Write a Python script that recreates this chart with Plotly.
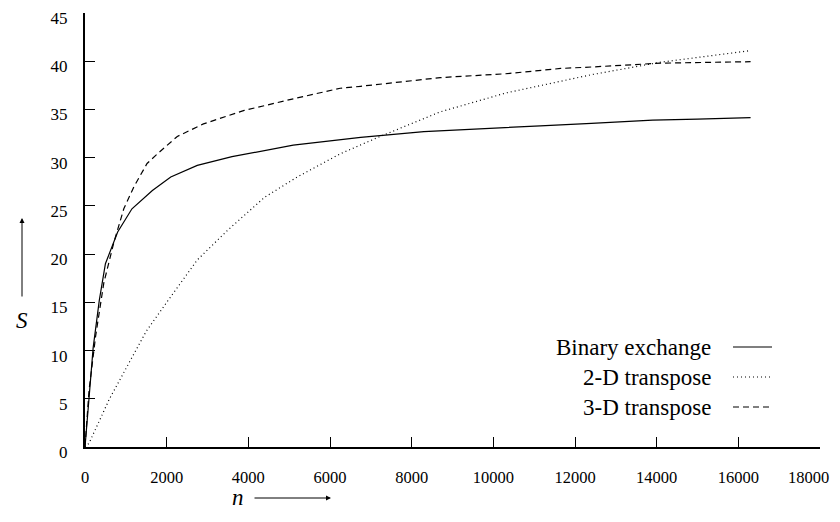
import plotly.graph_objects as go

# ---- data ----
n_binary = [0, 100, 200, 350, 500, 800, 1150, 1650, 2100, 2750, 3600, 5100, 6750,
            8300, 9900, 11150, 12400, 13900, 15000, 16300]
s_binary = [0, 5.5, 10.3, 15.2, 19.0, 22.3, 24.7, 26.6, 28.0, 29.2, 30.1, 31.3, 32.1,
            32.7, 33.0, 33.3, 33.55, 33.9, 34.0, 34.15]

n_2d = [0, 100, 600, 1500, 2000, 2750, 3500, 4400, 5200, 6250, 7200, 8700, 10300,
        11650, 12400, 14100, 16300]
s_2d = [0, 0.4, 5.0, 12.0, 15.0, 19.4, 22.5, 25.9, 28.0, 30.4, 32.15, 34.75, 36.7,
        37.9, 38.6, 39.9, 41.1]

n_3d = [0, 100, 260, 460, 700, 950, 1200, 1520, 1800, 2260, 2900, 3900, 5100, 6250,
        6750, 8700, 10300, 11650, 12400, 14100, 16300]
s_3d = [0, 5.9, 11.5, 17.0, 21.1, 24.7, 27.0, 29.4, 30.5, 32.2, 33.5, 34.9, 36.1, 37.2,
        37.4, 38.3, 38.7, 39.25, 39.4, 39.8, 39.95]

series_names = ["Binary exchange", "2-D transpose", "3-D transpose"]
x_ticks = [0, 2000, 4000, 6000, 8000, 10000, 12000, 14000, 16000, 18000]
y_ticks = [0, 5, 10, 15, 20, 25, 30, 35, 40, 45]

SERIF = "Liberation Serif"
dashes = ["solid", "1px,3px", "6px,4px"]

fig = go.Figure()
for xs, ys, name, d in zip([n_binary, n_2d, n_3d], [s_binary, s_2d, s_3d], series_names, dashes):
    fig.add_trace(go.Scatter(x=xs, y=ys, mode="lines", name=name,
                             line=dict(color="black", width=1.2, dash=d),
                             showlegend=False))

OFF = 8  # page body margin of the browser
W, H = 840 - OFF, 522 - 2 * OFF
# target plot box in screenshot pixels: x 85..820, y 13..447
X0, X1, Y0, Y1 = 85, 820, 13, 447
L, T = X0 - OFF, Y0 - OFF
R, B = W - (X1 - OFF), H - (Y1 - OFF)
pw, ph = X1 - X0, Y1 - Y0


def px(xp):
    return (xp - X0) / pw


def py(yp):
    return (Y1 - yp) / ph


annotations = []
shapes = []
# custom legend: right-aligned text, line sample on the right
leg_rows = [347, 377, 407]
for name, d, yy in zip(series_names, dashes, leg_rows):
    annotations.append(dict(x=px(713), y=py(yy), xref="paper", yref="paper",
                            text=name, showarrow=False, xanchor="right", yanchor="middle",
                            font=dict(family=SERIF, size=23, color="black")))
    shapes.append(dict(type="line", xref="paper", yref="paper",
                       x0=px(733), x1=px(772), y0=py(yy), y1=py(yy),
                       line=dict(color="black", width=1.2, dash=d)))

# axis labels with arrows
annotations.append(dict(x=px(22), y=py(320), xref="paper", yref="paper", text="<i>S</i>",
                        showarrow=False, xanchor="center", yanchor="middle",
                        font=dict(family=SERIF, size=23, color="black")))
annotations.append(dict(x=px(22), y=py(218), xref="paper", yref="paper", text="",
                        showarrow=True, ax=0, ay=80, arrowhead=2, arrowsize=1,
                        arrowwidth=1, arrowcolor="black"))
annotations.append(dict(x=px(238), y=py(497), xref="paper", yref="paper", text="<i>n</i>",
                        showarrow=False, xanchor="center", yanchor="middle",
                        font=dict(family=SERIF, size=23, color="black")))
annotations.append(dict(x=px(331), y=py(498), xref="paper", yref="paper", text="",
                        showarrow=True, ax=-78, ay=0, arrowhead=2, arrowsize=1,
                        arrowwidth=1, arrowcolor="black"))

# last x tick label placed so it stays fully inside the window
x_ticktext = [str(v) for v in x_ticks]
annotations.append(dict(x=px(831), y=py(477), xref="paper", yref="paper",
                        text=x_ticktext[-1], showarrow=False, xanchor="right",
                        yanchor="middle",
                        font=dict(family=SERIF, size=16.5, color="black")))
x_ticktext[-1] = ""

fig.update_layout(
    width=W, height=H,
    margin=dict(l=L, r=R, t=T, b=B, autoexpand=False),
    paper_bgcolor="white", plot_bgcolor="white",
    showlegend=False,
    annotations=annotations,
    shapes=shapes,
    xaxis=dict(range=[0, 18000], tickvals=x_ticks, ticktext=x_ticktext,
               automargin=False, ticklabeloverflow="allow",
               showgrid=False, zeroline=False, showline=True, linecolor="black",
               linewidth=2, ticks="inside", ticklen=10, tickcolor="black", tickwidth=1,
               ticklabelstandoff=14,
               tickfont=dict(family=SERIF, size=16.5, color="black")),
    yaxis=dict(range=[0, 45], tickvals=y_ticks, ticktext=[str(v) for v in y_ticks],
               automargin=False, ticklabeloverflow="allow", ticklabelshift=5,
               showgrid=False, zeroline=False, showline=True, linecolor="black",
               linewidth=2, ticks="inside", ticklen=10, tickcolor="black", tickwidth=1,
               ticklabelstandoff=12,
               tickfont=dict(family=SERIF, size=17, color="black")),
)

fig.write_html("out.html")
